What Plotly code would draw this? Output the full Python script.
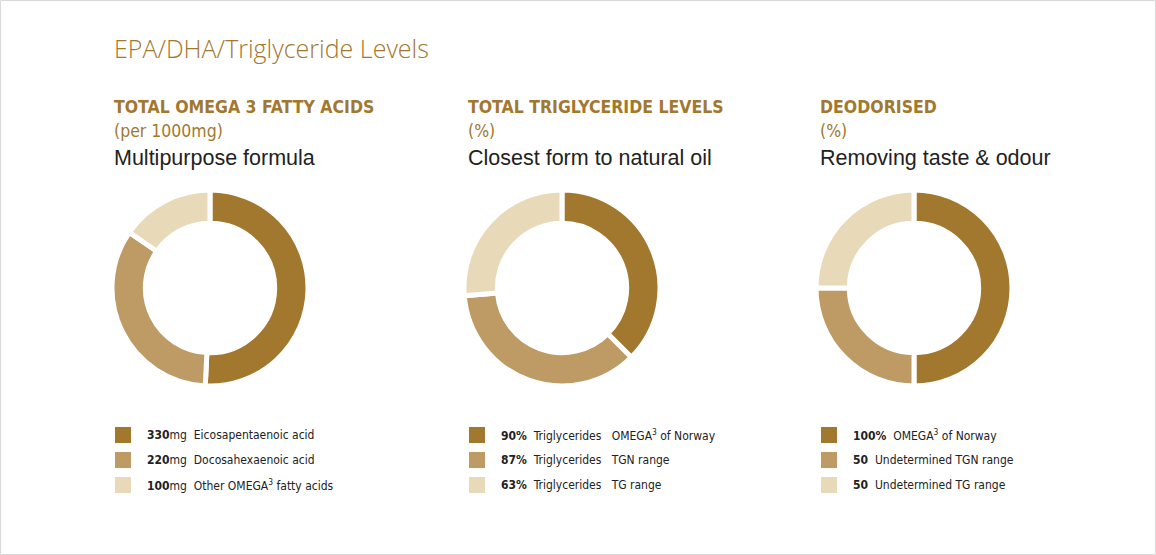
import plotly.graph_objects as go

W, H = 1156, 555

COLORS = ["#A2782F", "#BE9B64", "#E8D9B9"]
GOLD = "#A2782F"
COND = "DejaVu Sans Condensed, Roboto Condensed, Liberation Sans Narrow, Roboto, sans-serif"

# Data
omega_labels = ["Eicosapentaenoic acid", "Docosahexaenoic acid", "Other OMEGA<sup>3</sup> fatty acids"]
omega_values = [330, 220, 100]
omega_prefix = ["330", "220", "100"]

tg_labels = ["Triglycerides   OMEGA<sup>3</sup> of Norway", "Triglycerides   TGN range", "Triglycerides   TG range"]
tg_values = [90, 87, 63]
tg_prefix = ["90%", "87%", "63%"]

deo_labels = ["OMEGA<sup>3</sup> of Norway", "Undetermined TGN range", "Undetermined TG range"]
deo_values = [100, 50, 50]
deo_prefix = ["100%", "50", "50"]

titles = ["TOTAL OMEGA 3 FATTY ACIDS", "TOTAL TRIGLYCERIDE LEVELS", "DEODORISED"]
subtitles = ["(per 1000mg)", "(%)", "(%)"]
descs = ["Multipurpose formula", "Closest form to natural oil", "Removing taste & odour"]

panels = [
    (omega_labels, omega_values, [p + "</b>mg" for p in omega_prefix]),
    (tg_labels, tg_values, [p + "</b>" for p in tg_prefix]),
    (deo_labels, deo_values, [p + "</b>" for p in deo_prefix]),
]

col_x = [113, 467, 819]      # left text column in px
pie_cx = [210, 562, 914]     # pie centers px
pie_cy = 288
pie_r = 98

fig = go.Figure()
shapes = []
annotations = []

def px_x(x):
    return x / W

def px_y(y):
    return 1 - y / H

for i, (labels, values, prefixes) in enumerate(panels):
    fig.add_trace(go.Pie(
        values=values,
        labels=[f"{i}-{j}" for j in range(len(values))],
        hole=0.66,
        sort=False,
        direction="clockwise",
        rotation=0,
        marker=dict(colors=COLORS, line=dict(color="white", width=5)),
        textinfo="none",
        hoverinfo="skip",
        showlegend=False,
        domain=dict(
            x=[px_x(pie_cx[i] - pie_r), px_x(pie_cx[i] + pie_r)],
            y=[px_y(pie_cy + pie_r), px_y(pie_cy - pie_r)],
        ),
    ))
    annotations.append(dict(text=f"<b>{titles[i]}</b>", x=px_x(col_x[i] - 1), y=px_y(107),
                            xanchor="left", yanchor="middle", showarrow=False,
                            font=dict(family=COND, size=17.5, color=GOLD)))
    annotations.append(dict(text=subtitles[i], x=px_x(col_x[i] - 1), y=px_y(131),
                            xanchor="left", yanchor="middle", showarrow=False,
                            font=dict(family=COND, size=17.5, color=GOLD)))
    annotations.append(dict(text=descs[i], x=px_x(col_x[i] - 1), y=px_y(158),
                            xanchor="left", yanchor="middle", showarrow=False,
                            font=dict(family="Liberation Sans", size=21.5, color="#222222")))
    for j in range(len(values)):
        yc = 435 + 25 * j
        shapes.append(dict(type="rect", xref="paper", yref="paper",
                           x0=px_x(col_x[i] + 2), x1=px_x(col_x[i] + 18),
                           y0=px_y(yc + 8), y1=px_y(yc - 8),
                           fillcolor=COLORS[j], line=dict(width=0)))
        annotations.append(dict(text=f"<b>{prefixes[j]}  {labels[j]}",
                                x=px_x(col_x[i] + 32), y=px_y(yc),
                                xanchor="left", yanchor="middle", showarrow=False,
                                font=dict(family=COND, size=12, color="#222222")))

annotations.append(dict(text="EPA/DHA/Triglyceride Levels", x=px_x(112), y=px_y(48),
                        xanchor="left", yanchor="middle", showarrow=False,
                        font=dict(family="Open Sans", size=25, color=GOLD, weight=300)))

shapes.append(dict(type="rect", xref="paper", yref="paper", x0=0.0005, x1=0.9995, y0=0.001, y1=0.999,
                   line=dict(color="#D8D8D8", width=1), fillcolor="rgba(0,0,0,0)"))

fig.update_layout(
    width=W, height=H,
    margin=dict(l=0, r=0, t=0, b=0),
    paper_bgcolor="white", plot_bgcolor="white",
    shapes=shapes, annotations=annotations,
    showlegend=False,
)

fig.write_html("out.html", config={"displayModeBar": False},
               post_script="document.body.style.margin='0';document.body.style.overflow='hidden';")
